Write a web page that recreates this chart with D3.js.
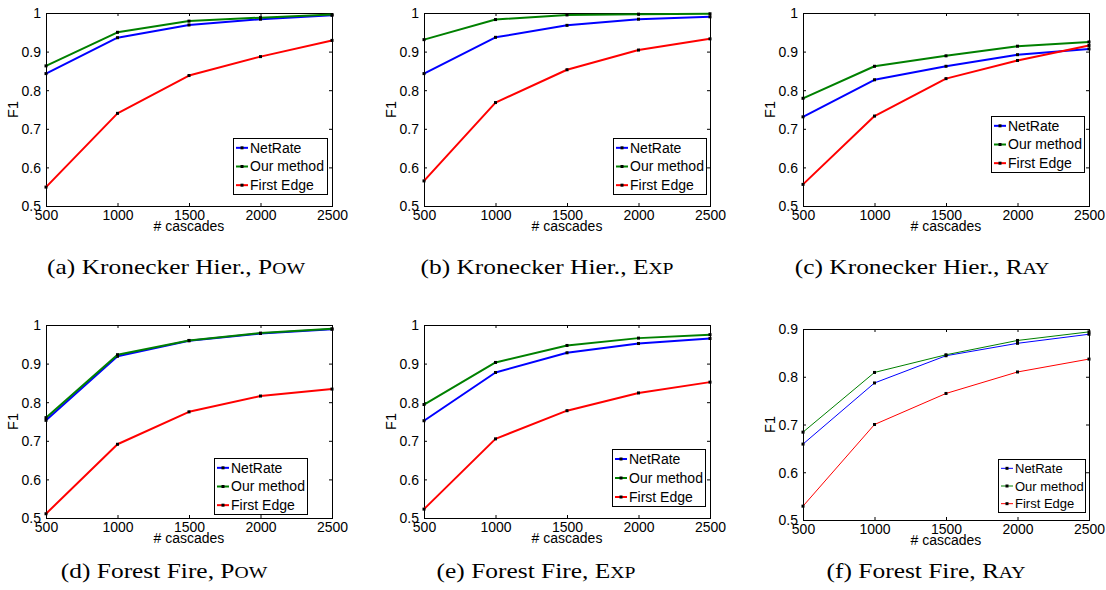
<!DOCTYPE html>
<html><head><meta charset="utf-8">
<script src="https://cdn.jsdelivr.net/npm/d3@7"></script>
<style>
body{margin:0;background:#fff} svg{display:block}
.tall{transform-box:fill-box;transform-origin:center;transform:scaleY(1.1)}
</style>
</head><body><svg id="c" width="1106" height="590"></svg>
<script>
// ---------- data ----------
const cascades = [500, 1000, 1500, 2000, 2500];
const seriesNames = ["NetRate", "Our method", "First Edge"];
const seriesColors = ["#0000ff", "#008000", "#ff0000"];
const yTicksFull = [0.5, 0.6, 0.7, 0.8, 0.9, 1];
const yTicksRayFF = [0.5, 0.6, 0.7, 0.8, 0.9];

const kronPowNetRate   = [0.843, 0.936, 0.969, 0.984, 0.994];
const kronPowOurMethod = [0.863, 0.950, 0.979, 0.988, 0.996];
const kronPowFirstEdge = [0.549, 0.740, 0.838, 0.887, 0.929];

const kronExpNetRate   = [0.843, 0.937, 0.968, 0.984, 0.990];
const kronExpOurMethod = [0.931, 0.983, 0.995, 0.997, 0.998];
const kronExpFirstEdge = [0.565, 0.768, 0.853, 0.904, 0.933];

const kronRayNetRate   = [0.731, 0.827, 0.862, 0.892, 0.907];
const kronRayOurMethod = [0.779, 0.862, 0.889, 0.914, 0.925];
const kronRayFirstEdge = [0.556, 0.733, 0.830, 0.877, 0.916];

const ffPowNetRate   = [0.753, 0.919, 0.959, 0.978, 0.989];
const ffPowOurMethod = [0.760, 0.923, 0.960, 0.979, 0.990];
const ffPowFirstEdge = [0.511, 0.691, 0.775, 0.816, 0.834];

const ffExpNetRate   = [0.752, 0.877, 0.928, 0.952, 0.965];
const ffExpOurMethod = [0.794, 0.903, 0.947, 0.966, 0.975];
const ffExpFirstEdge = [0.523, 0.705, 0.778, 0.824, 0.852];

const ffRayNetRate   = [0.659, 0.787, 0.844, 0.870, 0.889];
const ffRayOurMethod = [0.684, 0.809, 0.846, 0.876, 0.894];
const ffRayFirstEdge = [0.529, 0.700, 0.765, 0.810, 0.837];

const captionLetters = ["(a)", "(b)", "(c)", "(d)", "(e)", "(f)"];
const captionGraphs = ["Kronecker Hier.", "Kronecker Hier.", "Kronecker Hier.", "Forest Fire", "Forest Fire", "Forest Fire"];
const captionModels = ["Pow", "Exp", "Ray", "Pow", "Exp", "Ray"];

const xLabel = "# cascades";
const yLabel = "F1";

// ---------- layout ----------
const panels = [
  {x0: 46,  x1: 332,  y0: 13,  y1: 206, yMax: 1,   ticks: yTicksFull,  series: [kronPowNetRate, kronPowOurMethod, kronPowFirstEdge], lw: 2, leg: {x: 233, y: 138, w: 94, h: 56, fs: 14}, cap: {cx: 176, y: 274}},
  {x0: 424, x1: 710,  y0: 13,  y1: 206, yMax: 1,   ticks: yTicksFull,  series: [kronExpNetRate, kronExpOurMethod, kronExpFirstEdge], lw: 2, leg: {x: 613, y: 138, w: 93, h: 56, fs: 14}, cap: {cx: 547, y: 274}},
  {x0: 803, x1: 1089, y0: 13,  y1: 206, yMax: 1,   ticks: yTicksFull,  series: [kronRayNetRate, kronRayOurMethod, kronRayFirstEdge], lw: 2, leg: {x: 991, y: 116, w: 93, h: 56, fs: 14}, cap: {cx: 922, y: 274}},
  {x0: 46,  x1: 332,  y0: 325, y1: 518, yMax: 1,   ticks: yTicksFull,  series: [ffPowNetRate, ffPowOurMethod, ffPowFirstEdge], lw: 2, leg: {x: 214, y: 458, w: 93, h: 56, fs: 14}, cap: {cx: 164, y: 578}},
  {x0: 424, x1: 710,  y0: 325, y1: 518, yMax: 1,   ticks: yTicksFull,  series: [ffExpNetRate, ffExpOurMethod, ffExpFirstEdge], lw: 2, leg: {x: 612, y: 449, w: 93, h: 57, fs: 14}, cap: {cx: 536, y: 578}},
  {x0: 803, x1: 1089, y0: 329, y1: 520, yMax: 0.9, ticks: yTicksRayFF, series: [ffRayNetRate, ffRayOurMethod, ffRayFirstEdge], lw: 1, leg: {x: 998, y: 459, w: 87, h: 53, fs: 13}, cap: {cx: 926, y: 578}}
];
const captionTargetWidth = 258;

const svg = d3.select("#c");
const sans = "'Liberation Sans', Arial, Helvetica, sans-serif";
const serif = "'Liberation Serif', 'Times New Roman', serif";
const fmt = d3.format(".1~f");

const captions = [];

panels.forEach((p, i) => {
  const x = d3.scaleLinear().domain([cascades[0], cascades[cascades.length - 1]]).range([p.x0, p.x1]);
  const y = d3.scaleLinear().domain([0.5, p.yMax]).range([p.y1, p.y0]);
  const g = svg.append("g");

  g.append("rect").attr("x", p.x0).attr("y", p.y0).attr("width", p.x1 - p.x0).attr("height", p.y1 - p.y0).attr("fill", "#fff");

  const styleAxis = sel => {
    sel.selectAll("path.domain").attr("stroke", "#000").attr("stroke-width", 1).attr("shape-rendering", "crispEdges");
    sel.selectAll(".tick line").attr("stroke", "#000").attr("stroke-width", 1);
    sel.selectAll("text").attr("font-family", sans).attr("font-size", 14).attr("fill", "#000").attr("class", "tall");
  };

  g.append("g").attr("transform", `translate(0,${p.y1})`)
    .call(d3.axisBottom(x).tickValues(cascades).tickSizeInner(-3).tickSizeOuter(0).tickPadding(3.5).tickFormat(d3.format("d")))
    .call(styleAxis);
  g.append("g").attr("transform", `translate(0,${p.y0})`)
    .call(d3.axisTop(x).tickValues(cascades).tickSizeInner(-3).tickSizeOuter(0).tickFormat(""))
    .call(styleAxis);
  g.append("g").attr("transform", `translate(${p.x0},0)`)
    .call(d3.axisLeft(y).tickValues(p.ticks).tickSizeInner(-3).tickSizeOuter(0).tickPadding(5).tickFormat(fmt))
    .call(styleAxis);
  g.append("g").attr("transform", `translate(${p.x1},0)`)
    .call(d3.axisRight(y).tickValues(p.ticks).tickSizeInner(-3).tickSizeOuter(0).tickFormat(""))
    .call(styleAxis);

  // axis labels
  g.append("text").attr("class", "tall").attr("x", (p.x0 + p.x1) / 2).attr("y", p.y1 + 25)
    .attr("text-anchor", "middle").attr("font-family", sans).attr("font-size", 14).text(xLabel);
  g.append("text").attr("transform", `translate(${p.x0 - 28},${(p.y0 + p.y1) / 2}) rotate(-90)`)
    .attr("text-anchor", "middle").attr("font-family", sans).attr("font-size", 14.5).text(yLabel);

  // series
  const line = d3.line().x((d, k) => x(cascades[k])).y(d => y(d));
  p.series.forEach((vals, s) => {
    g.append("path").datum(vals).attr("d", line).attr("fill", "none")
      .attr("stroke", seriesColors[s]).attr("stroke-width", p.lw).attr("stroke-linejoin", "round");
    g.selectAll(null).data(vals).enter().append("rect")
      .attr("x", (d, k) => x(cascades[k]) - 1.5).attr("y", d => y(d) - 1.5)
      .attr("width", 3).attr("height", 3).attr("fill", "#000");
  });

  // legend
  const L = p.leg;
  g.append("rect").attr("x", L.x + 0.5).attr("y", L.y + 0.5).attr("width", L.w).attr("height", L.h)
    .attr("fill", "#fff").attr("stroke", "#000").attr("stroke-width", 1);
  const rowH = L.h / 3;
  seriesNames.forEach((name, s) => {
    const ry = L.y + rowH * (s + 0.5) + 0.5;
    g.append("line").attr("x1", L.x + 3).attr("x2", L.x + 15).attr("y1", ry).attr("y2", ry)
      .attr("stroke", seriesColors[s]).attr("stroke-width", p.lw);
    g.append("rect").attr("x", L.x + 9 - 1.5).attr("y", ry - 1.5).attr("width", 3).attr("height", 3).attr("fill", "#000");
    g.append("text").attr("x", L.x + 17).attr("y", ry).attr("dy", "0.35em")
      .attr("font-family", sans).attr("font-size", L.fs).text(name);
  });

  // caption (Computer Modern is wider than Times: stretch horizontally)
  const cap = g.append("text").attr("x", 0).attr("y", 0).attr("text-anchor", "middle")
    .attr("font-family", serif).attr("font-size", 22).attr("fill", "#000");
  cap.append("tspan").text(`${captionLetters[i]} ${captionGraphs[i]}, ${captionModels[i][0]}`);
  cap.append("tspan").attr("font-size", 17).text(captionModels[i].slice(1).toUpperCase());
  captions.push({node: cap, p});
});

const baseW = captions[0].node.node().getComputedTextLength();
const kx = captionTargetWidth / baseW;
captions.forEach(c => c.node.attr("transform", `translate(${c.p.cap.cx},${c.p.cap.y}) scale(${kx},1)`));
</script>
</body></html>
